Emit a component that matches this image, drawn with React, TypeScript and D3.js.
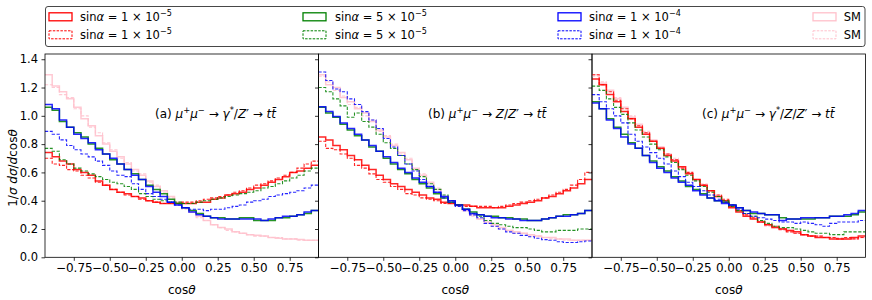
import React, { useRef, useEffect } from 'react';
import * as d3 from 'd3';

// bin edges of the cos(theta) histograms, 38 bins of 0.05
const binEdges = d3.range(39).map(i => -0.95 + i * 0.05);
const xTicks = [-0.75, -0.5, -0.25, 0, 0.25, 0.5, 0.75];
const yTicks = [0, 0.2, 0.4, 0.6, 0.8, 1.0, 1.2, 1.4];

// (a) mu+mu- -> gamma*/Z' -> tt
const redSolidA = [0.74, 0.71, 0.68, 0.66, 0.62, 0.60, 0.58, 0.54, 0.51, 0.48, 0.46, 0.45, 0.43, 0.42, 0.40, 0.39, 0.38, 0.38, 0.38, 0.38, 0.38, 0.39, 0.39, 0.41, 0.42, 0.44, 0.45, 0.46, 0.48, 0.49, 0.51, 0.53, 0.55, 0.57, 0.60, 0.61, 0.63, 0.65];
const redDashA = [0.70, 0.66, 0.65, 0.62, 0.61, 0.58, 0.56, 0.53, 0.51, 0.48, 0.46, 0.44, 0.43, 0.41, 0.40, 0.39, 0.38, 0.38, 0.38, 0.39, 0.39, 0.40, 0.41, 0.42, 0.43, 0.44, 0.46, 0.47, 0.49, 0.51, 0.52, 0.54, 0.56, 0.58, 0.60, 0.63, 0.66, 0.68];
const greenSolidA = [1.06, 1.04, 0.96, 0.92, 0.88, 0.85, 0.80, 0.77, 0.73, 0.69, 0.66, 0.62, 0.59, 0.55, 0.51, 0.48, 0.45, 0.41, 0.38, 0.35, 0.33, 0.31, 0.29, 0.28, 0.28, 0.27, 0.27, 0.28, 0.28, 0.26, 0.26, 0.26, 0.28, 0.28, 0.29, 0.30, 0.31, 0.33];
const greenDashA = [0.77, 0.75, 0.69, 0.66, 0.63, 0.61, 0.59, 0.57, 0.55, 0.53, 0.52, 0.50, 0.48, 0.45, 0.43, 0.41, 0.40, 0.39, 0.39, 0.38, 0.38, 0.39, 0.40, 0.41, 0.42, 0.43, 0.44, 0.45, 0.46, 0.47, 0.49, 0.50, 0.52, 0.54, 0.56, 0.58, 0.61, 0.63];
const blueSolidA = [1.08, 1.05, 0.97, 0.92, 0.87, 0.84, 0.81, 0.76, 0.73, 0.70, 0.66, 0.62, 0.58, 0.55, 0.50, 0.46, 0.43, 0.39, 0.37, 0.35, 0.32, 0.30, 0.29, 0.28, 0.27, 0.27, 0.27, 0.27, 0.27, 0.27, 0.26, 0.27, 0.28, 0.29, 0.29, 0.30, 0.32, 0.33];
const blueDashA = [0.89, 0.87, 0.83, 0.79, 0.76, 0.73, 0.71, 0.68, 0.65, 0.61, 0.58, 0.57, 0.52, 0.48, 0.45, 0.43, 0.41, 0.39, 0.37, 0.35, 0.34, 0.34, 0.33, 0.34, 0.34, 0.35, 0.36, 0.37, 0.39, 0.40, 0.41, 0.43, 0.44, 0.45, 0.46, 0.47, 0.49, 0.51];
const smSolidA = [1.29, 1.21, 1.17, 1.12, 1.06, 0.98, 0.93, 0.86, 0.80, 0.75, 0.71, 0.66, 0.62, 0.58, 0.54, 0.50, 0.47, 0.43, 0.39, 0.35, 0.32, 0.29, 0.26, 0.23, 0.21, 0.20, 0.18, 0.17, 0.16, 0.155, 0.15, 0.14, 0.135, 0.13, 0.13, 0.125, 0.12, 0.12];
const smDashA = [1.22, 1.20, 1.15, 1.13, 1.05, 1.00, 0.92, 0.88, 0.81, 0.76, 0.70, 0.67, 0.61, 0.59, 0.53, 0.51, 0.46, 0.42, 0.39, 0.34, 0.32, 0.28, 0.26, 0.23, 0.21, 0.19, 0.18, 0.17, 0.16, 0.15, 0.15, 0.14, 0.14, 0.13, 0.13, 0.12, 0.12, 0.12];

// (b) mu+mu- -> Z/Z' -> tt
const redSolidB = [0.85, 0.83, 0.79, 0.76, 0.72, 0.69, 0.65, 0.62, 0.58, 0.55, 0.52, 0.50, 0.48, 0.46, 0.44, 0.42, 0.41, 0.39, 0.38, 0.37, 0.37, 0.36, 0.35, 0.35, 0.35, 0.35, 0.36, 0.37, 0.38, 0.39, 0.40, 0.42, 0.43, 0.45, 0.47, 0.49, 0.52, 0.55];
const redDashB = [0.82, 0.77, 0.76, 0.73, 0.70, 0.65, 0.63, 0.59, 0.55, 0.53, 0.50, 0.48, 0.45, 0.44, 0.42, 0.41, 0.40, 0.38, 0.38, 0.37, 0.36, 0.36, 0.36, 0.36, 0.35, 0.36, 0.37, 0.38, 0.39, 0.40, 0.41, 0.42, 0.44, 0.46, 0.48, 0.51, 0.55, 0.60];
const greenSolidB = [1.06, 1.02, 0.99, 0.94, 0.90, 0.86, 0.83, 0.78, 0.75, 0.70, 0.66, 0.62, 0.59, 0.55, 0.52, 0.49, 0.45, 0.42, 0.39, 0.37, 0.34, 0.32, 0.30, 0.29, 0.29, 0.28, 0.28, 0.27, 0.27, 0.26, 0.26, 0.27, 0.28, 0.29, 0.30, 0.30, 0.31, 0.33];
const greenDashB = [1.20, 1.17, 1.12, 1.07, 0.99, 1.02, 0.96, 0.92, 0.87, 0.81, 0.77, 0.72, 0.66, 0.62, 0.57, 0.52, 0.48, 0.44, 0.40, 0.37, 0.34, 0.31, 0.29, 0.26, 0.24, 0.23, 0.22, 0.21, 0.21, 0.20, 0.19, 0.18, 0.18, 0.19, 0.19, 0.19, 0.20, 0.20];
const blueSolidB = [1.065, 1.03, 0.995, 0.95, 0.91, 0.87, 0.83, 0.79, 0.75, 0.71, 0.67, 0.63, 0.60, 0.56, 0.53, 0.50, 0.46, 0.43, 0.40, 0.37, 0.34, 0.31, 0.30, 0.29, 0.28, 0.28, 0.27, 0.27, 0.26, 0.26, 0.26, 0.27, 0.28, 0.29, 0.29, 0.30, 0.31, 0.33];
const blueDashB = [1.31, 1.25, 1.19, 1.17, 1.12, 1.08, 1.03, 0.97, 0.91, 0.84, 0.78, 0.72, 0.66, 0.61, 0.55, 0.50, 0.46, 0.42, 0.39, 0.36, 0.33, 0.30, 0.28, 0.24, 0.22, 0.20, 0.18, 0.17, 0.155, 0.145, 0.135, 0.125, 0.12, 0.11, 0.105, 0.105, 0.11, 0.115];
const smSolidB = [1.29, 1.22, 1.20, 1.13, 1.10, 1.05, 1.02, 0.96, 0.90, 0.85, 0.79, 0.74, 0.69, 0.63, 0.58, 0.53, 0.48, 0.43, 0.40, 0.37, 0.33, 0.30, 0.27, 0.25, 0.23, 0.21, 0.19, 0.18, 0.17, 0.16, 0.15, 0.14, 0.14, 0.13, 0.13, 0.12, 0.12, 0.12];
const smDashB = [1.28, 1.24, 1.18, 1.14, 1.08, 1.06, 1.00, 0.97, 0.89, 0.86, 0.80, 0.73, 0.70, 0.62, 0.59, 0.52, 0.49, 0.43, 0.39, 0.36, 0.33, 0.29, 0.27, 0.24, 0.22, 0.20, 0.19, 0.17, 0.17, 0.15, 0.15, 0.14, 0.13, 0.13, 0.12, 0.12, 0.12, 0.12];

// (c) mu+mu- -> gamma*/Z/Z' -> tt
const redSolidC = [1.26, 1.22, 1.15, 1.10, 1.03, 0.98, 0.92, 0.87, 0.82, 0.77, 0.72, 0.68, 0.64, 0.59, 0.55, 0.51, 0.47, 0.43, 0.40, 0.35, 0.32, 0.29, 0.27, 0.25, 0.23, 0.21, 0.20, 0.19, 0.18, 0.16, 0.15, 0.14, 0.14, 0.13, 0.13, 0.13, 0.14, 0.15];
const redDashC = [1.29, 1.22, 1.17, 1.11, 1.05, 0.98, 0.93, 0.88, 0.82, 0.77, 0.73, 0.69, 0.63, 0.60, 0.55, 0.51, 0.47, 0.44, 0.41, 0.36, 0.33, 0.30, 0.28, 0.25, 0.23, 0.22, 0.20, 0.18, 0.17, 0.16, 0.15, 0.15, 0.14, 0.14, 0.13, 0.14, 0.13, 0.14];
const greenSolidC = [1.10, 1.05, 0.98, 0.92, 0.87, 0.81, 0.77, 0.72, 0.68, 0.64, 0.61, 0.57, 0.54, 0.50, 0.48, 0.45, 0.42, 0.40, 0.39, 0.37, 0.35, 0.33, 0.31, 0.31, 0.30, 0.30, 0.28, 0.27, 0.27, 0.27, 0.27, 0.28, 0.28, 0.29, 0.29, 0.29, 0.30, 0.32];
const greenDashC = [1.21, 1.18, 1.12, 1.06, 1.01, 0.95, 0.90, 0.85, 0.80, 0.76, 0.71, 0.67, 0.62, 0.58, 0.54, 0.50, 0.46, 0.43, 0.40, 0.36, 0.33, 0.31, 0.29, 0.26, 0.24, 0.22, 0.21, 0.21, 0.20, 0.19, 0.18, 0.17, 0.17, 0.16, 0.16, 0.18, 0.18, 0.18];
const blueSolidC = [1.09, 1.05, 0.97, 0.91, 0.85, 0.80, 0.77, 0.72, 0.67, 0.63, 0.60, 0.56, 0.53, 0.51, 0.47, 0.44, 0.42, 0.40, 0.38, 0.37, 0.35, 0.33, 0.32, 0.31, 0.30, 0.30, 0.26, 0.27, 0.27, 0.28, 0.28, 0.28, 0.28, 0.29, 0.29, 0.30, 0.31, 0.33];
const blueDashC = [1.15, 1.10, 1.05, 1.00, 0.95, 0.87, 0.82, 0.78, 0.74, 0.70, 0.66, 0.61, 0.57, 0.53, 0.50, 0.47, 0.44, 0.41, 0.39, 0.37, 0.34, 0.31, 0.29, 0.28, 0.27, 0.26, 0.25, 0.25, 0.24, 0.25, 0.24, 0.23, 0.22, 0.24, 0.25, 0.25, 0.25, 0.26];
const smSolidC = [1.29, 1.23, 1.18, 1.12, 1.06, 0.99, 0.94, 0.88, 0.83, 0.78, 0.73, 0.69, 0.64, 0.59, 0.55, 0.51, 0.47, 0.43, 0.40, 0.36, 0.33, 0.30, 0.28, 0.25, 0.23, 0.21, 0.20, 0.19, 0.17, 0.16, 0.15, 0.15, 0.14, 0.14, 0.13, 0.13, 0.13, 0.14];
const smDashC = [1.28, 1.24, 1.17, 1.13, 1.05, 1.00, 0.93, 0.89, 0.82, 0.78, 0.72, 0.70, 0.63, 0.60, 0.54, 0.52, 0.46, 0.44, 0.40, 0.37, 0.33, 0.31, 0.27, 0.26, 0.22, 0.21, 0.19, 0.19, 0.17, 0.16, 0.15, 0.14, 0.14, 0.13, 0.14, 0.13, 0.14, 0.14];

const colors = { red: '#ff0000', green: '#008000', blue: '#0000ff', sm: '#ffc0cb' };
const legendLabels = [
  { key: 'red', coef: '1', exp: '−5' },
  { key: 'green', coef: '5', exp: '−5' },
  { key: 'blue', coef: '1', exp: '−4' },
  { key: 'sm', coef: null, exp: null },
];

const panels = [
  {
    label: [{ t: '(a) ' }, { t: 'μ', i: true }, { t: '+', s: true }, { t: 'μ', i: true }, { t: '−', s: true }, { t: ' → ' }, { t: 'γ', i: true }, { t: '*', s: true }, { t: '/' }, { t: 'Z', i: true }, { t: '′' }, { t: ' → ' }, { t: 'tt̄', i: true }],
    labelX: 155,
    series: [['sm', smSolidA, smDashA], ['red', redSolidA, redDashA], ['green', greenSolidA, greenDashA], ['blue', blueSolidA, blueDashA]],
  },
  {
    label: [{ t: '(b) ' }, { t: 'μ', i: true }, { t: '+', s: true }, { t: 'μ', i: true }, { t: '−', s: true }, { t: ' → ' }, { t: 'Z', i: true }, { t: '/' }, { t: 'Z', i: true }, { t: '′' }, { t: ' → ' }, { t: 'tt̄', i: true }],
    labelX: 428,
    series: [['sm', smSolidB, smDashB], ['red', redSolidB, redDashB], ['green', greenSolidB, greenDashB], ['blue', blueSolidB, blueDashB]],
  },
  {
    label: [{ t: '(c) ' }, { t: 'μ', i: true }, { t: '+', s: true }, { t: 'μ', i: true }, { t: '−', s: true }, { t: ' → ' }, { t: 'γ', i: true }, { t: '*', s: true }, { t: '/' }, { t: 'Z', i: true }, { t: '/' }, { t: 'Z', i: true }, { t: '′' }, { t: ' → ' }, { t: 'tt̄', i: true }],
    labelX: 702,
    series: [['sm', smSolidC, smDashC], ['red', redSolidC, redDashC], ['green', greenSolidC, greenDashC], ['blue', blueSolidC, blueDashC]],
  },
];

const FONT = 'DejaVu Sans, sans-serif';

// writes math-ish text made of segments into a <text>
const writeRich = (text, segs, size) => {
  let up = false;
  segs.forEach(sg => {
    const ts = text.append('tspan').text(sg.t);
    if (sg.i) ts.attr('font-style', 'italic');
    if (sg.s) {
      ts.attr('font-size', size * 0.7);
      if (!up) ts.attr('dy', -size * 0.4);
      up = true;
    } else if (up) {
      ts.attr('dy', size * 0.4);
      up = false;
    }
  });
};

const Chart = () => {
  const svgRef = useRef();

  useEffect(() => {
    const width = 872, height = 300;
    const svg = d3.select(svgRef.current);
    svg.selectAll('*').remove();
    svg.attr('width', width).attr('height', height).style('font-family', FONT);

    const top = 54, bottom = 257.3;
    const panelLeft = [45, 318.5, 592];
    const panelW = 273.5;

    const y = d3.scaleLinear().domain([0, 1.437]).range([bottom, top]);

    panels.forEach((p, pi) => {
      const x0 = panelLeft[pi];
      const x = d3.scaleLinear().domain([-0.95, 0.95]).range([x0, x0 + panelW]);
      const g = svg.append('g');

      const clipId = `clip${pi}`;
      g.append('clipPath').attr('id', clipId)
        .append('rect').attr('x', x0).attr('y', top).attr('width', panelW).attr('height', bottom - top);

      const line = d3.line().x(d => x(d[0])).y(d => y(d[1]));
      const stepPts = vals => vals.flatMap((v, i) => [[binEdges[i], v], [binEdges[i + 1], v]]);

      const lines = g.append('g').attr('clip-path', `url(#${clipId})`);
      p.series.forEach(([key, solid, dash]) => {
        lines.append('path')
          .attr('d', line(stepPts(solid)))
          .attr('fill', 'none')
          .attr('stroke', colors[key])
          .attr('stroke-width', 1.5)
          .attr('stroke-opacity', 0.85);
        lines.append('path')
          .attr('d', line(stepPts(dash)))
          .attr('fill', 'none')
          .attr('stroke', colors[key])
          .attr('stroke-width', 1.1)
          .attr('stroke-dasharray', '3.2,1.6')
          .attr('stroke-opacity', 0.85);
      });

      // axes
      const xAxis = g.append('g')
        .attr('transform', `translate(0,${bottom})`)
        .call(d3.axisBottom(x).tickValues(xTicks).tickFormat(d3.format('.2f')).tickSizeInner(3.5).tickSizeOuter(0).tickPadding(3));
      xAxis.select('.domain').remove();
      xAxis.selectAll('line').attr('stroke', '#000').attr('stroke-width', 0.8);
      xAxis.selectAll('text').attr('font-family', FONT).attr('font-size', 12).attr('fill', '#000');

      const yAxis = g.append('g')
        .attr('transform', `translate(${x0},0)`)
        .call(d3.axisLeft(y).tickValues(yTicks).tickFormat(pi === 0 ? d3.format('.1f') : () => '').tickSizeInner(3.5).tickSizeOuter(0).tickPadding(3.5));
      yAxis.select('.domain').remove();
      yAxis.selectAll('line').attr('stroke', '#000').attr('stroke-width', 0.8);
      yAxis.selectAll('text').attr('font-family', FONT).attr('font-size', 11.5).attr('fill', '#000');

      g.append('rect')
        .attr('x', x0).attr('y', top).attr('width', panelW).attr('height', bottom - top)
        .attr('fill', 'none').attr('stroke', '#000').attr('stroke-width', 0.8);

      const xl = g.append('text')
        .attr('x', x0 + panelW / 2).attr('y', 294)
        .attr('text-anchor', 'middle').attr('font-size', 12);
      writeRich(xl, [{ t: 'cos' }, { t: 'θ', i: true }], 12);

      const ann = g.append('text').attr('x', p.labelX).attr('y', 118).attr('font-size', 12);
      writeRich(ann, p.label, 12);
    });

    // y label
    const yl = svg.append('text')
      .attr('transform', `translate(17,168) rotate(-90)`)
      .attr('text-anchor', 'middle').attr('font-size', 12);
    writeRich(yl, [{ t: '1/' }, { t: 'σ', i: true }, { t: ' ' }, { t: 'dσ', i: true }, { t: '/' }, { t: 'd', i: true }, { t: 'cos' }, { t: 'θ', i: true }], 12);

    // legend
    const leg = svg.append('g');
    leg.append('rect').attr('x', 45.5).attr('y', 6.5).attr('width', 819.5).attr('height', 40)
      .attr('rx', 2.5).attr('fill', '#fff').attr('stroke', '#333').attr('stroke-width', 0.9);
    const colHandle = [49, 303, 558, 813];
    const colText = [80, 335, 589, 861];
    const rowY = [16.8, 34.8];
    legendLabels.forEach((lb, ci) => {
      [0, 1].forEach(ri => {
        leg.append('rect')
          .attr('x', colHandle[ci]).attr('y', rowY[ri] - 4).attr('width', 23).attr('height', 8)
          .attr('fill', 'none').attr('stroke', colors[lb.key])
          .attr('stroke-width', ri === 0 ? 1.3 : 1)
          .attr('stroke-dasharray', ri === 0 ? null : '2.5,1.3');
        const t = leg.append('text').attr('x', colText[ci]).attr('y', rowY[ri] + 4).attr('font-size', 11.5);
        if (lb.coef) {
          writeRich(t, [{ t: 'sin' }, { t: 'α', i: true }, { t: ` = ${lb.coef} × 10` }, { t: lb.exp, s: true }], 11.5);
        } else {
          t.attr('text-anchor', 'end').text('SM');
        }
      });
    });
  }, []);

  return <svg ref={svgRef} style={{ position: 'absolute', left: 0, top: 0 }}></svg>;
};

export default function App() {
  return <Chart />;
}
